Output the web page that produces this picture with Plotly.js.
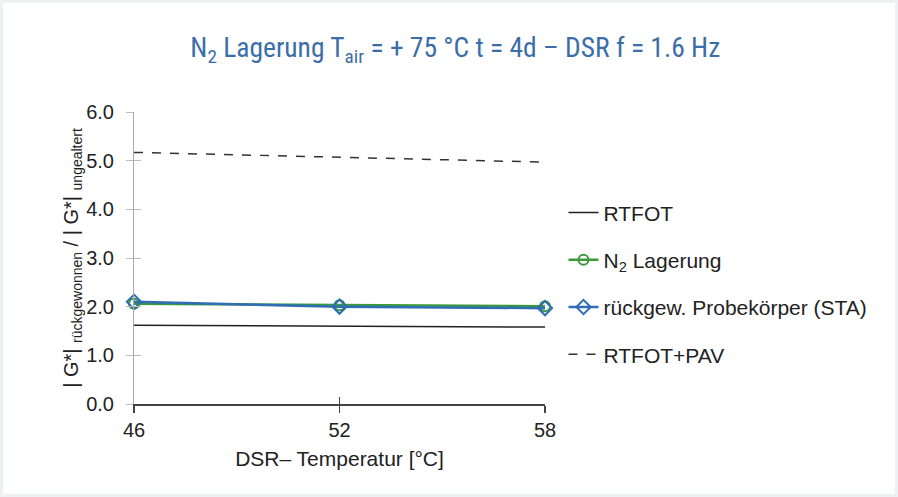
<!DOCTYPE html>
<html>
<head>
<meta charset="utf-8">
<script src="https://cdn.plot.ly/plotly-3.0.1.min.js"></script>
<style>html,body{margin:0;padding:0;background:#fff;}#chart{width:898px;height:497px;}</style>
</head>
<body>
<div id="chart"></div>
<script>
var temps = [46, 52, 58];
var rtfot = [1.62, 1.60, 1.58];
var n2Lagerung = [2.06, 2.03, 2.01];
var rueckgew = [2.10, 2.00, 1.97];
var rtfotPav = [5.17, 5.07, 4.97];
var yTicks = [0, 1, 2, 3, 4, 5, 6];

var font = 'Liberation Sans, Arial, sans-serif';
var traces = [
  {x: temps, y: rtfot, name: 'RTFOT', mode: 'lines', line: {color: '#222', width: 1.5}, legendgroup: 'a'},
  {x: temps, y: n2Lagerung, name: 'N<sub>2</sub> Lagerung', mode: 'lines+markers', line: {color: '#3a9a3a', width: 2.5},
   marker: {symbol: 'circle-open', size: 10, color: '#3a9a3a', line: {width: 2}}, legendgroup: 'b', cliponaxis: false},
  {x: temps, y: rueckgew, name: 'rückgew. Probekörper (STA)', mode: 'lines+markers', line: {color: '#2f6db5', width: 2.5},
   marker: {symbol: 'diamond-open', size: 11, color: '#2f6db5', line: {width: 2}}, legendgroup: 'c', cliponaxis: false},
  {x: temps, y: rtfotPav, name: 'RTFOT+PAV', mode: 'lines', line: {color: '#333', width: 1.5, dash: 'dash'}, legendgroup: 'd'},
  {x: temps, y: rtfot, xaxis: 'x2', yaxis: 'y2', mode: 'lines', line: {color: 'rgba(0,0,0,0)'}, showlegend: false, hoverinfo: 'skip'},
  {x: temps, y: rtfot, xaxis: 'x2', yaxis: 'y3', mode: 'lines', line: {color: 'rgba(0,0,0,0)'}, showlegend: false, hoverinfo: 'skip'}
];

var layout = {
  width: 898, height: 497,
  paper_bgcolor: '#fff', plot_bgcolor: '#fff',
  margin: {l: 134, r: 353, t: 112, b: 93},
  title: {text: 'N<sub>2</sub> Lagerung T<sub>air</sub> = + 75 °C t = 4d – DSR f = 1.6 Hz',
    font: {family: 'Liberation Sans Narrow, Roboto Condensed, Arial Narrow, sans-serif', size: 27.5, color: '#3b6ea8'},
    x: 0.507, xanchor: 'center', y: 0.905, yanchor: 'middle'},
  xaxis: {range: [46, 58], tickvals: temps, ticktext: temps.map(String), showgrid: false, zeroline: false,
    showline: true, linecolor: '#444', linewidth: 1.5, ticks: 'outside', ticklen: 7, tickcolor: '#444', tickwidth: 1.5,
    ticklabelstandoff: 0,
    tickfont: {family: font, size: 20, color: '#222'},
    title: {text: 'DSR– Temperatur [°C]', font: {family: font, size: 21, color: '#222'}, standoff: 12}},
  xaxis2: {range: [46, 58], overlaying: 'x', tickvals: temps, showticklabels: false, showgrid: false, zeroline: false,
    ticks: 'inside', ticklen: 7, tickcolor: '#444', tickwidth: 1.5, showline: false},
  yaxis: {range: [0, 6], tickvals: yTicks, tickformat: '.1f', showgrid: false, zeroline: false,
    showline: true, linecolor: '#aaa', linewidth: 1, ticks: 'outside', ticklen: 15, tickcolor: 'rgba(0,0,0,0)', tickwidth: 1,
    tickfont: {family: font, size: 20, color: '#222'},
    title: {text: '| G*| <sub>rückgewonnen</sub> / | G*| <sub>ungealtert</sub>', font: {family: font, size: 20, color: '#222'}, standoff: 2}},
  yaxis2: {range: [0, 6], overlaying: 'y', tickvals: yTicks, showticklabels: false, showgrid: false, zeroline: false,
    ticks: 'outside', ticklen: 7, tickcolor: '#bbb', tickwidth: 1, showline: false},
  yaxis3: {range: [0, 6], overlaying: 'y', tickvals: yTicks, showticklabels: false, showgrid: false, zeroline: false,
    ticks: 'inside', ticklen: 7, tickcolor: '#bbb', tickwidth: 1, showline: false},
  shapes: [{type: 'rect', xref: 'paper', yref: 'paper', x0: -0.326, x1: 1.859, y0: -0.318, y1: 1.384,
    line: {color: '#eef1f4', width: 6}, fillcolor: 'rgba(0,0,0,0)', layer: 'below'}],
  showlegend: true,
  legend: {x: 1.045, xanchor: 'left', y: 0.725, yanchor: 'top', traceorder: 'grouped', tracegroupgap: 17,
    itemwidth: 30, font: {family: font, size: 21, color: '#222'}, bgcolor: 'rgba(0,0,0,0)'}
};

Plotly.newPlot('chart', traces, layout, {displayModeBar: false, staticPlot: true});
</script>
</body>
</html>
